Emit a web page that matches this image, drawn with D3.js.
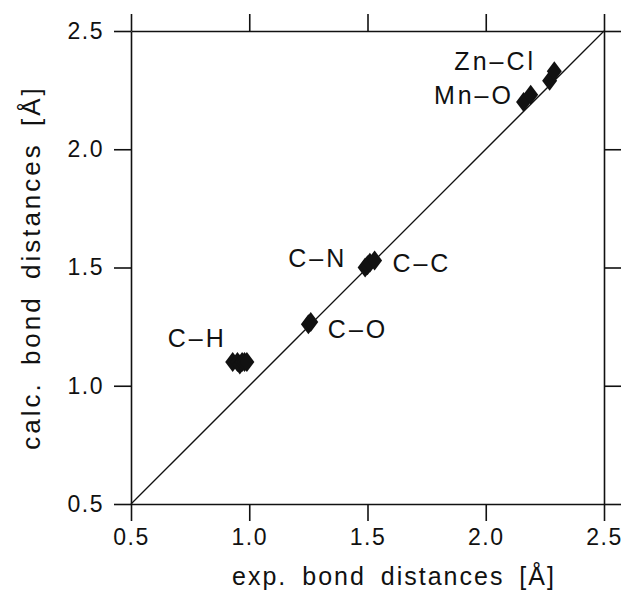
<!DOCTYPE html>
<html>
<head>
<meta charset="utf-8">
<script src="https://cdn.jsdelivr.net/npm/d3@7"></script>
<style>
  body { margin: 0; background: #fff; }
  text { font-family: "Liberation Sans", Arial, sans-serif; fill: #111; }
</style>
</head>
<body>
<svg id="chart"></svg>
<script>
const width = 623;
const height = 599;
const margin = { top: 31, right: 19, bottom: 95, left: 131 };

// data: experimental vs calculated bond distances
const bondLabels = ["C\u2013H", "C\u2013O", "C\u2013N", "C\u2013C", "Mn\u2013O", "Zn\u2013Cl"];
const expValues = [
    [0.93, 0.95, 0.96, 0.97, 0.98, 0.99],
    [1.25, 1.26],
    [1.49, 1.50],
    [1.51, 1.53],
    [2.16, 2.19],
    [2.27, 2.29],
];
const calcValues = [
    [1.10, 1.10, 1.09, 1.10, 1.10, 1.10],
    [1.26, 1.27],
    [1.50, 1.51],
    [1.52, 1.53],
    [2.20, 2.23],
    [2.29, 2.33],
];
// label anchor in data units (centre of text)
const labelX = [0.78, 1.46, 1.29, 1.73, 1.95, 2.04];
const labelY = [1.20, 1.24, 1.54, 1.52, 2.23, 2.37];
const tickValues = [0.5, 1.0, 1.5, 2.0, 2.5];

const innerW = width - margin.left - margin.right;
const innerH = height - margin.top - margin.bottom;

const svg = d3.select("#chart").attr("width", width).attr("height", height);
const g = svg.append("g").attr("transform", `translate(${margin.left}, ${margin.top})`);

const x = d3.scaleLinear().domain([0.5, 2.5]).range([0, innerW]);
const y = d3.scaleLinear().domain([0.5, 2.5]).range([innerH, 0]);

const fmt = d3.format(".1f");
const styleAxis = (sel) => {
    sel.selectAll(".domain").attr("stroke", "#111").attr("stroke-width", 1.6);
    sel.selectAll(".tick line").attr("stroke", "#111").attr("stroke-width", 1.6);
    sel.selectAll(".tick text").attr("font-size", 23).attr("letter-spacing", 1.5)
        .style("font-family", "'Liberation Sans', Arial, sans-serif").attr("fill", "#111");
};

g.append("g").attr("transform", `translate(0, ${innerH})`)
    .call(d3.axisBottom(x).tickValues(tickValues).tickFormat(fmt).tickSizeInner(17).tickSizeOuter(0).tickPadding(8))
    .call(styleAxis);
g.append("g")
    .call(d3.axisLeft(y).tickValues(tickValues).tickFormat(fmt).tickSizeInner(17).tickSizeOuter(0).tickPadding(10))
    .call(styleAxis);
g.append("g")
    .call(d3.axisTop(x).tickValues(tickValues).tickFormat("").tickSizeInner(17).tickSizeOuter(0))
    .call(styleAxis);
g.append("g").attr("transform", `translate(${innerW}, 0)`)
    .call(d3.axisRight(y).tickValues(tickValues).tickFormat("").tickSizeInner(17).tickSizeOuter(0))
    .call(styleAxis);

// identity line
g.append("line")
    .attr("x1", x(0.5)).attr("y1", y(0.5))
    .attr("x2", x(2.5)).attr("y2", y(2.5))
    .attr("stroke", "#111").attr("stroke-width", 1.3);

// points
const points = expValues.flatMap((xs, i) => xs.map((v, j) => ({ ex: v, calc: calcValues[i][j] })));
const diamond = "M0,-10L7.5,0L0,10L-7.5,0Z";
g.selectAll(".pt")
    .data(points)
    .join("path")
    .attr("class", "pt")
    .attr("d", diamond)
    .attr("transform", (d) => `translate(${x(d.ex)}, ${y(d.calc)})`)
    .attr("fill", "#111");

// bond labels
g.selectAll(".lbl")
    .data(bondLabels)
    .join("text")
    .attr("class", "lbl")
    .attr("x", (d, i) => x(labelX[i]))
    .attr("y", (d, i) => y(labelY[i]))
    .attr("dy", "0.35em")
    .attr("text-anchor", "middle")
    .attr("font-size", 25)
    .attr("letter-spacing", 3)
    .text((d) => d);

// axis titles
svg.append("text")
    .attr("x", 394)
    .attr("y", 585)
    .attr("text-anchor", "middle")
    .attr("font-size", 25)
    .attr("letter-spacing", 2)
    .attr("word-spacing", 6)
    .text("exp. bond distances [Å]");
svg.append("text")
    .attr("transform", `translate(40, ${margin.top + innerH / 2}) rotate(-90)`)
    .attr("text-anchor", "middle")
    .attr("font-size", 26)
    .attr("letter-spacing", 3)
    .attr("word-spacing", 6)
    .text("calc. bond distances [Å]");
</script>
</body>
</html>
